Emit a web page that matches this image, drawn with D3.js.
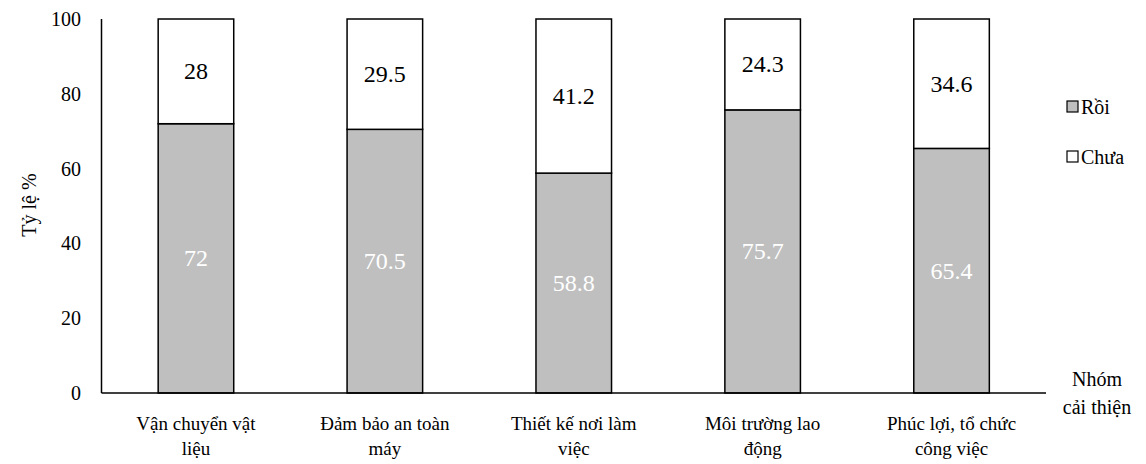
<!DOCTYPE html>
<html>
<head>
<meta charset="utf-8">
<script src="https://cdn.jsdelivr.net/npm/d3@7"></script>
<style>
  @font-face { font-family: "ChartSerif"; src: local("Liberation Serif"), local("LiberationSerif"), local("Times New Roman"); }
  body { margin: 0; background: #fff; }
  text { font-family: ChartSerif, "Liberation Serif", "Times New Roman", serif; }
</style>
</head>
<body>
<svg id="fig" width="1146" height="464"></svg>
<script>
// Improvement groups and their share of completed / not-yet-completed items
const categories = [
  ["Vận chuyển vật", "liệu"],
  ["Đảm bảo an toàn", "máy"],
  ["Thiết kế nơi làm", "việc"],
  ["Môi trường lao", "động"],
  ["Phúc lợi, tổ chức", "công việc"]
];
const done = [72, 70.5, 58.8, 75.7, 65.4];      // Rồi
const notYet = [28, 29.5, 41.2, 24.3, 34.6];    // Chưa
const yTicks = [0, 20, 40, 60, 80, 100];
const seriesNames = ["Rồi", "Chưa"];
const seriesKeys = ["done", "notYet"];
const seriesColors = ["#bfbfbf", "#ffffff"];

const svg = d3.select("#fig");
const plotLeft = 101.5, plotRight = 1046, plotTop = 19, plotBottom = 393;

const x = d3.scaleBand().domain(d3.range(categories.length)).range([plotLeft, plotRight])
  .paddingInner(0.6).paddingOuter(0.3);
const y = d3.scaleLinear().domain([0, 100]).range([plotBottom, plotTop]);

// serif text helper
function label(sel, size) {
  return sel.style("font-family", "Times New Roman")
    .attr("font-size", size);
}

// y tick labels (no tick marks)
label(svg.append("g").selectAll("text").data(yTicks).join("text"), 20)
  .attr("x", 81).attr("y", d => y(d) + 7)
  .attr("text-anchor", "end")
  .text(d => d);

// stacked bars
const rows = categories.map((c, i) => ({ i, done: done[i], notYet: notYet[i] }));
const stack = d3.stack().keys(seriesKeys)(rows);

stack.forEach((layer, k) => {
  svg.append("g").selectAll("rect").data(layer).join("rect")
    .attr("x", d => x(d.data.i))
    .attr("width", x.bandwidth())
    .attr("y", d => y(d[1]))
    .attr("height", d => y(d[0]) - y(d[1]))
    .attr("fill", seriesColors[k])
    .attr("stroke", "#000").attr("stroke-width", 1.5);

  label(svg.append("g").selectAll("text").data(layer).join("text"), 24)
    .attr("x", d => x(d.data.i) + x.bandwidth() / 2)
    .attr("y", d => y((d[0] + d[1]) / 2) + 8)
    .attr("text-anchor", "middle")
    .attr("fill", k === 0 ? "#ffffff" : "#000000")
    .text(d => d.data[seriesKeys[k]]);
});

// axis lines
svg.append("line").attr("x1", plotLeft).attr("x2", plotLeft).attr("y1", plotTop).attr("y2", plotBottom)
  .attr("stroke", "#000").attr("stroke-width", 1.5);
svg.append("line").attr("x1", plotLeft).attr("x2", plotRight).attr("y1", plotBottom).attr("y2", plotBottom)
  .attr("stroke", "#000").attr("stroke-width", 1.5);

// category labels, two lines each
categories.forEach((lines, i) => {
  lines.forEach((ln, j) => {
    label(svg.append("text"), 19)
      .attr("x", x(i) + x.bandwidth() / 2).attr("y", 430 + j * 25)
      .attr("text-anchor", "middle")
      .text(ln);
  });
});

// x axis title
label(svg.append("text"), 20).attr("x", 1097).attr("y", 386).attr("text-anchor", "middle").text("Nhóm");
label(svg.append("text"), 20).attr("x", 1097).attr("y", 414).attr("text-anchor", "middle").text("cải thiện");

// y axis title
label(svg.append("text"), 20)
  .attr("transform", "translate(36,205) rotate(-90)")
  .attr("text-anchor", "middle")
  .text("Tỷ lệ %");

// legend
const legend = svg.append("g").selectAll("g").data(seriesNames).join("g")
  .attr("transform", (d, i) => `translate(1067,${107 + i * 50})`);
legend.append("rect").attr("x", 0).attr("y", -6).attr("width", 11).attr("height", 11)
  .attr("fill", (d, i) => seriesColors[i]).attr("stroke", "#000").attr("stroke-width", 1.2);
label(legend.append("text"), 20)
  .attr("x", 14).attr("y", 7)
  .text(d => d);
</script>
</body>
</html>
